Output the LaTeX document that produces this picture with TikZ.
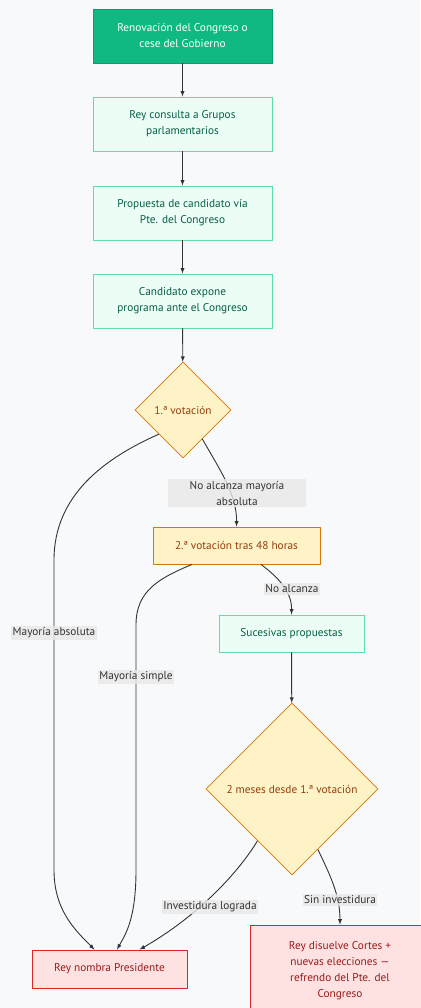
\documentclass[tikz,border=0pt]{standalone}
\usepackage{fontspec}
\setmainfont{PT Sans}
\usetikzlibrary{shapes.geometric,calc}
\definecolor{fondo}{HTML}{F8F9FB}
\definecolor{verde}{HTML}{10B981}
\definecolor{verdeosc}{HTML}{0E9F6E}
\definecolor{verdef}{HTML}{ECFDF5}
\definecolor{verdeb}{HTML}{5EDCAA}
\definecolor{verdet}{HTML}{065F46}
\definecolor{amarillo}{HTML}{FEF3C7}
\definecolor{naranja}{HTML}{D97706}
\definecolor{marron}{HTML}{92400E}
\definecolor{rosa}{HTML}{FEE2E2}
\definecolor{rojo}{HTML}{DC2626}
\definecolor{rojot}{HTML}{991B1B}
\definecolor{gris}{HTML}{E8E8E8}
\definecolor{grist}{HTML}{333333}
\begin{document}
\begin{tikzpicture}[>=latex, x=1pt, y=1pt,
    every node/.style={font=\fontsize{11.3}{16}\selectfont, align=center},
    inicio/.style={draw=verdeosc, line width=.8pt, fill=verde, text=white, minimum width=179pt, minimum height=54pt},
    paso/.style={draw=verdeb, line width=.9pt, fill=verdef, text=verdet, minimum width=179pt, minimum height=54pt},
    voto/.style={diamond, aspect=1, draw=naranja, line width=.8pt, fill=amarillo, text=marron, inner sep=1pt},
    caja/.style={draw=naranja, line width=.8pt, fill=amarillo, text=marron, minimum height=37pt},
    fin/.style={draw=rojo, line width=.8pt, fill=rosa, text=rojot},
    etiq/.style={fill=gris, fill opacity=.8, text opacity=1, text=grist, inner sep=1.5pt},
    flecha/.style={->, draw=grist, line width=.9pt}]
    \useasboundingbox (0,0) rectangle (420,-1008);
    \fill[fondo] (0,0) rectangle (420,-1008);
    \node[inicio] (renov) at (182.5,-36) {Renovación del Congreso o\\cese del Gobierno};
    \node[paso] (consulta) at (182.5,-124) {Rey consulta a Grupos\\parlamentarios};
    \node[paso] (propuesta) at (182.5,-213) {Propuesta de candidato vía\\Pte. del Congreso};
    \node[paso] (expone) at (182.5,-301) {Candidato expone\\programa ante el Congreso};
    \node[voto, minimum size=96pt] (vot1) at (183,-410) {1.ª votación};
    \node[caja, minimum width=167pt] (vot2) at (236.5,-545.5) {2.ª votación tras 48 horas};
    \node[paso, minimum width=145pt, minimum height=37pt] (suces) at (291.5,-633.5) {Sucesivas propuestas};
    \node[voto, minimum size=172pt] (meses) at (292,-789) {2 meses desde 1.ª votación};
    \node[fin, minimum width=155pt, minimum height=38pt] (nombra) at (109.5,-969) {Rey nombra Presidente};
    \node[fin, minimum width=180pt, minimum height=92pt] (disuelve) at (340,-971) {Rey disuelve Cortes +\\nuevas elecciones —\\refrendo del Pte. del\\Congreso};
    \draw[flecha] (renov) -- (consulta);
    \draw[flecha] (consulta) -- (propuesta);
    \draw[flecha] (propuesta) -- (expone);
    \draw[flecha] (expone) -- (vot1);
    \draw[flecha] (suces) -- (meses);
    \draw[flecha] (vot1.south west) .. controls (105,-458) and (54,-495) .. (54,-560) -- (54,-870)
        .. controls (54,-910) and (75,-930) .. ([xshift=-15pt]nombra.north);
    \draw[flecha] ($(vot1.south)!.4!(vot1.east)$) .. controls (220,-470) and (237,-495) .. (vot2.north);
    \draw[flecha] ([xshift=-44.5pt]vot2.south) .. controls (160,-578) and (136,-590) .. (136,-625) -- (136,-870)
        .. controls (136,-920) and (125,-935) .. ([xshift=7.5pt]nombra.north);
    \draw[flecha] ([xshift=24.5pt]vot2.south) .. controls (275,-575) and (292,-590) .. (suces.north);
    \draw[flecha] ($(meses.south)!.4!(meses.west)$) .. controls (240,-870) and (200,-915) .. ([xshift=30pt]nombra.north);
    \draw[flecha] ($(meses.south)!.3!(meses.east)$) .. controls (330,-875) and (340,-895) .. (disuelve.north);
    \node[etiq] (labs) at (54,-633) {Mayoría absoluta};
    \node[etiq, minimum width=138pt] (lnoabs) at (237,-493) {No alcanza mayoría\\absoluta};
    \node[etiq] (lsimple) at (136,-677) {Mayoría simple};
    \node[etiq] (lno) at (292,-589) {No alcanza};
    \node[etiq] (llograda) at (210,-907) {Investidura lograda};
    \node[etiq] (lsin) at (340,-900) {Sin investidura};
\end{tikzpicture}
\end{document}
